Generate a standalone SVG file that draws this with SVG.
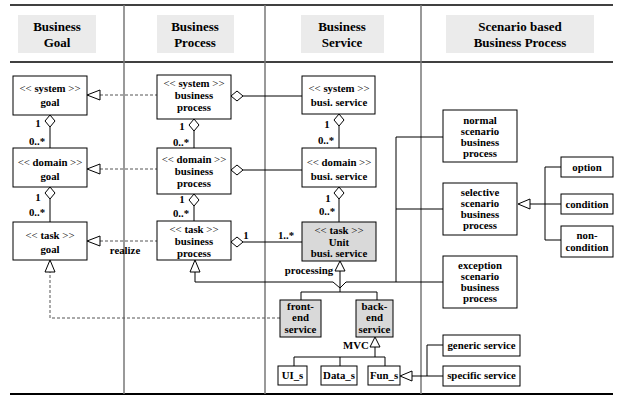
<svg xmlns="http://www.w3.org/2000/svg" width="618" height="396" viewBox="0 0 618 396" font-family="'Liberation Serif', 'Times New Roman', serif">
<style>
text{font-family:'Liberation Serif','Times New Roman',Times,serif;font-weight:bold;fill:#000;text-anchor:middle}
.t{font-size:10.8px}
.h{font-size:13px}
.l{font-size:10.8px}
.st{font-weight:normal}
.box{fill:#fff;stroke:#000;stroke-width:1}
.gbox{fill:#d9d9d9;stroke:#000;stroke-width:1}
.hdr{fill:#ebebeb}
.ln{fill:none;stroke:#000;stroke-width:1}
.dash{fill:none;stroke:#555;stroke-width:1;stroke-dasharray:3,2}
.tri{fill:#fff;stroke:#000;stroke-width:1}
.dia{fill:#fff;stroke:#000;stroke-width:1}
.div{stroke:#777;stroke-width:1.5}
.rule{stroke:#000;stroke-width:1.5}
</style>
<g id="frame">
<line class="rule" x1="10" y1="5" x2="613" y2="5"/>
<line class="rule" x1="10" y1="62" x2="613" y2="62"/>
<line class="rule" x1="10" y1="394" x2="613" y2="394" style="stroke-width:2"/>
<line class="div" x1="124" y1="5" x2="124" y2="394"/>
<line class="div" x1="265" y1="5" x2="265" y2="394"/>
<line class="div" x1="421" y1="5" x2="421" y2="394"/>
<rect class="hdr" x="18" y="15" width="78" height="38"/>
<rect class="hdr" x="157" y="15" width="77" height="38"/>
<rect class="hdr" x="301" y="15" width="83" height="38"/>
<rect class="hdr" x="446" y="15" width="148" height="38"/>
<text class="h" x="57" y="31">Business</text>
<text class="h" x="57" y="47">Goal</text>
<text class="h" x="195" y="31">Business</text>
<text class="h" x="195" y="47">Process</text>
<text class="h" x="342" y="31">Business</text>
<text class="h" x="342" y="47">Service</text>
<text class="h" x="520" y="31">Scenario based</text>
<text class="h" x="520" y="47">Business Process</text>
</g>
<g id="connectors">
<polygon class="dia" points="50,115 55,121 50,127 45,121"/>
<line class="ln" x1="50" y1="127" x2="50" y2="148"/>
<polygon class="dia" points="50,187 55,193 50,199 45,193"/>
<line class="ln" x1="50" y1="199" x2="50" y2="222"/>
<polygon class="dia" points="194,119 199,125 194,131 189,125"/>
<line class="ln" x1="194" y1="131" x2="194" y2="148"/>
<polygon class="dia" points="194,194 199,200 194,206 189,200"/>
<line class="ln" x1="194" y1="206" x2="194" y2="221"/>
<polygon class="dia" points="339,114 344,120 339,126 334,120"/>
<line class="ln" x1="339" y1="126" x2="339" y2="148"/>
<polygon class="dia" points="339,187 344,193 339,199 334,193"/>
<line class="ln" x1="339" y1="199" x2="339" y2="222"/>
<polygon class="dia" points="231,96 237,91 243,96 237,101"/>
<line class="ln" x1="243" y1="96" x2="302" y2="96"/>
<polygon class="dia" points="231,170 237,165 243,170 237,175"/>
<line class="ln" x1="243" y1="170" x2="302" y2="170"/>
<polygon class="dia" points="231,242 237,237 243,242 237,247"/>
<line class="ln" x1="243" y1="242" x2="302" y2="242"/>
<line class="dash" x1="100" y1="95" x2="157" y2="95"/>
<polygon class="tri" points="87,95 100,90 100,100"/>
<line class="dash" x1="100" y1="169" x2="157" y2="169"/>
<polygon class="tri" points="87,169 100,164 100,174"/>
<line class="dash" x1="100" y1="241" x2="157" y2="241"/>
<polygon class="tri" points="87,241 100,236 100,246"/>
<polyline class="dash" points="280,318 50,318 50,272"/>
<polygon class="tri" points="50,260 45,272 55,272"/>
<polyline class="ln" points="340,288 333,282 195,282 195,272"/>
<polygon class="tri" points="195,260 190,272 200,272"/>
<polyline class="ln" points="443,137 396,137 396,282 346,282 340,288"/>
<line class="ln" x1="396" y1="209" x2="443" y2="209"/>
<line class="ln" x1="396" y1="282" x2="443" y2="282"/>
<polygon class="tri" points="340,261 335,271 345,271"/>
<line class="ln" x1="340" y1="271" x2="340" y2="292"/>
<polyline class="ln" points="301,300 301,292 377,292 377,300"/>
<polygon class="tri" points="518,204 530,199 530,209"/>
<line class="ln" x1="530" y1="204" x2="561" y2="204"/>
<polyline class="ln" points="561,167 545,167 545,240 561,240"/>
<polygon class="tri" points="375,337 370,347 380,347"/>
<line class="ln" x1="375" y1="347" x2="375" y2="357"/>
<line class="ln" x1="294" y1="357" x2="385" y2="357"/>
<line class="ln" x1="294" y1="357" x2="294" y2="366"/>
<line class="ln" x1="340" y1="357" x2="340" y2="366"/>
<line class="ln" x1="385" y1="357" x2="385" y2="366"/>
<polygon class="tri" points="400,376 412,371 412,381"/>
<line class="ln" x1="412" y1="376" x2="443" y2="376"/>
<polyline class="ln" points="443,345 427,345 427,376"/>
<text class="l" x="38" y="127">1</text>
<text class="l" x="37" y="145">0..*</text>
<text class="l" x="38" y="201">1</text>
<text class="l" x="37" y="216">0..*</text>
<text class="l" x="182" y="130">1</text>
<text class="l" x="181" y="146">0..*</text>
<text class="l" x="182" y="203">1</text>
<text class="l" x="181" y="217">0..*</text>
<text class="l" x="327" y="128">1</text>
<text class="l" x="326" y="144">0..*</text>
<text class="l" x="328" y="202">1</text>
<text class="l" x="327" y="215">0..*</text>
<text class="l" x="246" y="239">1</text>
<text class="l" x="286" y="239">1..*</text>
<text class="l" x="125" y="254">realize</text>
<text class="l" x="309" y="274">processing</text>
<text class="l" x="356" y="349">MVC</text>
</g>
<g id="system-goal">
<rect class="box" x="13" y="76" width="74" height="39"/>
<text class="t" x="50" y="92"><tspan class="st">&lt;&lt;</tspan> system <tspan class="st">&gt;&gt;</tspan></text>
<text class="t" x="50" y="106">goal</text>
</g>
<g id="domain-goal">
<rect class="box" x="13" y="148" width="74" height="39"/>
<text class="t" x="50" y="166"><tspan class="st">&lt;&lt;</tspan> domain <tspan class="st">&gt;&gt;</tspan></text>
<text class="t" x="50" y="180">goal</text>
</g>
<g id="task-goal">
<rect class="box" x="13" y="222" width="74" height="38"/>
<text class="t" x="50" y="239"><tspan class="st">&lt;&lt;</tspan> task <tspan class="st">&gt;&gt;</tspan></text>
<text class="t" x="50" y="253">goal</text>
</g>
<g id="system-bp">
<rect class="box" x="157" y="75" width="74" height="44"/>
<text class="t" x="194" y="87"><tspan class="st">&lt;&lt;</tspan> system <tspan class="st">&gt;&gt;</tspan></text>
<text class="t" x="194" y="99">business</text>
<text class="t" x="194" y="111">process</text>
</g>
<g id="domain-bp">
<rect class="box" x="157" y="148" width="74" height="46"/>
<text class="t" x="194" y="163"><tspan class="st">&lt;&lt;</tspan> domain <tspan class="st">&gt;&gt;</tspan></text>
<text class="t" x="194" y="175">business</text>
<text class="t" x="194" y="187">process</text>
</g>
<g id="task-bp">
<rect class="box" x="157" y="221" width="74" height="39"/>
<text class="t" x="194" y="233"><tspan class="st">&lt;&lt;</tspan> task <tspan class="st">&gt;&gt;</tspan></text>
<text class="t" x="194" y="245">business</text>
<text class="t" x="194" y="257">process</text>
</g>
<g id="system-service">
<rect class="box" x="302" y="76" width="73" height="38"/>
<text class="t" x="339" y="92"><tspan class="st">&lt;&lt;</tspan> system <tspan class="st">&gt;&gt;</tspan></text>
<text class="t" x="339" y="106">busi. service</text>
</g>
<g id="domain-service">
<rect class="box" x="302" y="148" width="74" height="39"/>
<text class="t" x="339" y="166"><tspan class="st">&lt;&lt;</tspan> domain <tspan class="st">&gt;&gt;</tspan></text>
<text class="t" x="339" y="180">busi. service</text>
</g>
<g id="task-service">
<rect class="gbox" x="302" y="222" width="74" height="39"/>
<text class="t" x="339" y="234"><tspan class="st">&lt;&lt;</tspan> task <tspan class="st">&gt;&gt;</tspan></text>
<text class="t" x="339" y="245.5">Unit</text>
<text class="t" x="339" y="257">busi. service</text>
</g>
<g id="normal">
<rect class="box" x="443" y="110" width="74" height="52"/>
<text class="t" x="480" y="124">normal</text>
<text class="t" x="480" y="135">scenario</text>
<text class="t" x="480" y="146">business</text>
<text class="t" x="480" y="157">process</text>
</g>
<g id="selective">
<rect class="box" x="443" y="183" width="74" height="52"/>
<text class="t" x="480" y="196">selective</text>
<text class="t" x="480" y="207">scenario</text>
<text class="t" x="480" y="218">business</text>
<text class="t" x="480" y="229">process</text>
</g>
<g id="exception">
<rect class="box" x="443" y="256" width="74" height="52"/>
<text class="t" x="480" y="269">exception</text>
<text class="t" x="480" y="280">scenario</text>
<text class="t" x="480" y="291">business</text>
<text class="t" x="480" y="302">process</text>
</g>
<g id="option">
<rect class="box" x="561" y="157" width="52" height="20"/>
<text class="t" x="587" y="171">option</text>
</g>
<g id="condition">
<rect class="box" x="561" y="194" width="52" height="20"/>
<text class="t" x="587" y="208">condition</text>
</g>
<g id="non-condition">
<rect class="box" x="561" y="226" width="52" height="31"/>
<text class="t" x="587" y="239">non-</text>
<text class="t" x="587" y="251">condition</text>
</g>
<g id="front-end">
<rect class="gbox" x="280" y="300" width="41" height="37"/>
<text class="t" x="300.5" y="310">front-</text>
<text class="t" x="300.5" y="321">end</text>
<text class="t" x="300.5" y="333">service</text>
</g>
<g id="back-end">
<rect class="gbox" x="356" y="300" width="37" height="37"/>
<text class="t" x="374.5" y="310">back-</text>
<text class="t" x="374.5" y="321">end</text>
<text class="t" x="374.5" y="333">service</text>
</g>
<g id="ui-s">
<rect class="box" x="278" y="366" width="29" height="19"/>
<text class="t" x="292.5" y="379">UI_s</text>
</g>
<g id="data-s">
<rect class="box" x="321" y="366" width="36" height="19"/>
<text class="t" x="339" y="379">Data_s</text>
</g>
<g id="fun-s">
<rect class="box" x="368" y="366" width="32" height="19"/>
<text class="t" x="384" y="379">Fun_s</text>
</g>
<g id="generic">
<rect class="box" x="443" y="335" width="77" height="21"/>
<text class="t" x="481.5" y="349">generic service</text>
</g>
<g id="specific">
<rect class="box" x="443" y="366" width="77" height="20"/>
<text class="t" x="481.5" y="379">specific service</text>
</g>
</svg>
